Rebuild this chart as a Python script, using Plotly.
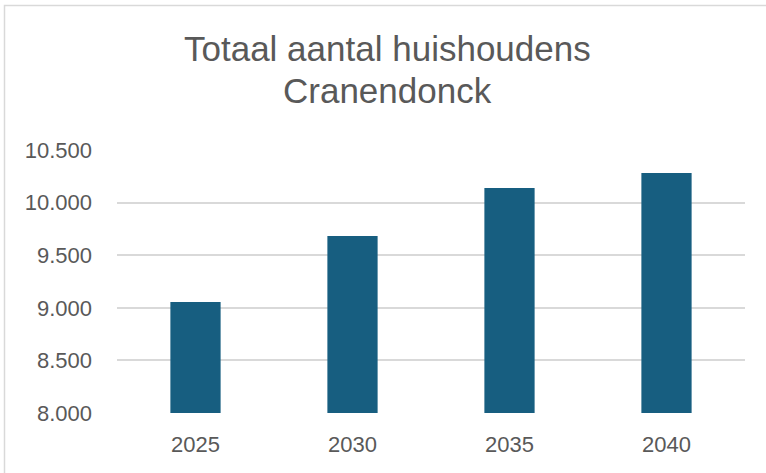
import plotly.graph_objects as go

# data
years = ['2025', '2030', '2035', '2040']
households = [9055, 9682, 10139, 10281]
y_ticks = [8000, 8500, 9000, 9500, 10000, 10500]
title_lines = ['Totaal aantal huishoudens', 'Cranendonck']

bar_color = '#175E80'
text_color = '#595959'
grid_color = '#D9D9D9'

W, H = 766, 473
# plot area in window pixels: x 117..745, y 150..413
left, top = 117, 150
pw, ph = 628, 263
right = W - left - pw
bottom = H - top - ph


def px_x(x):
    return (x - left) / pw


def px_y(y):
    return 1 + (top - y) / ph


fig = go.Figure()
fig.add_trace(go.Bar(
    x=years,
    y=households,
    marker=dict(color=bar_color, line=dict(width=0)),
    width=0.32,
))

fig.update_layout(
    width=W,
    height=H,
    margin=dict(l=left, r=right, t=top, b=bottom),
    paper_bgcolor='white',
    plot_bgcolor='white',
    separators=',.',
    showlegend=False,
    font=dict(family='Liberation Sans, Arial', color=text_color),
)

# two title lines as annotations to get the tighter line spacing
for text, yc in zip(title_lines, [49, 90]):
    fig.add_annotation(
        text=text, xref='paper', yref='paper',
        x=px_x(387), y=px_y(yc), xanchor='center', yanchor='middle',
        showarrow=False,
        font=dict(family='Liberation Sans, Arial', size=35, color=text_color),
    )

fig.update_yaxes(
    range=[8000, 10500],
    tickvals=y_ticks,
    tickformat=',.0f',
    showgrid=True,
    gridcolor=grid_color,
    gridwidth=1.5,
    zeroline=False,
    showline=False,
    ticks='',
    ticklabelstandoff=24,
    tickfont=dict(size=22, color=text_color),
)
fig.update_xaxes(
    showgrid=False,
    showline=False,
    ticks='',
    ticklabelstandoff=16,
    tickfont=dict(size=22, color=text_color),
)

# light grey chart-area border (runs past the window on right/bottom)
fig.add_shape(
    type='rect', xref='paper', yref='paper',
    x0=px_x(4.5), x1=1.2,
    y0=-0.4, y1=px_y(5.5),
    line=dict(color=grid_color, width=1.5),
    fillcolor='rgba(0,0,0,0)',
    layer='below',
)

# drop the default page margin so the figure sits in the window corner
fig.write_html('out.html', config={'displayModeBar': False},
               post_script="document.body.style.margin='0';")
